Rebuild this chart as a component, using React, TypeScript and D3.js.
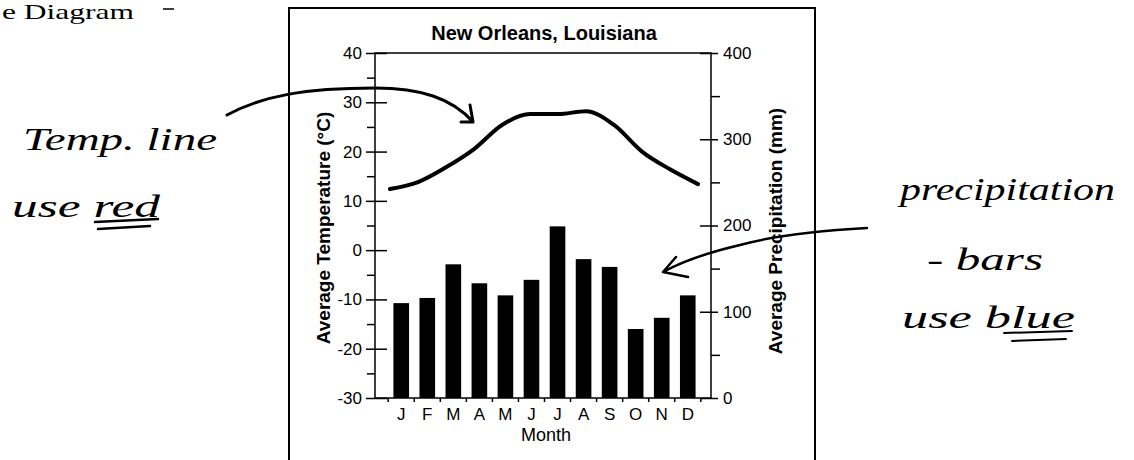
import React, { useEffect, useRef } from 'react';
import * as d3 from 'd3';

// monthly climate normals
const monthKeys = ['Jan', 'Feb', 'Mar', 'Apr', 'May', 'Jun', 'Jul', 'Aug', 'Sep', 'Oct', 'Nov', 'Dec'];
const monthLabels = ['J', 'F', 'M', 'A', 'M', 'J', 'J', 'A', 'S', 'O', 'N', 'D'];
const precipitation = [110, 116, 155, 133, 119, 137, 199, 161, 152, 80, 93, 119];
const temperature = [12.4, 13.8, 16.8, 20.5, 25.4, 27.6, 27.6, 28.2, 25.4, 20.0, 16.4, 13.4];

const tempTicks = [-30, -20, -10, 0, 10, 20, 30, 40];
const tempMinorTicks = [-25, -15, -5, 5, 15, 25, 35];
const precipTicks = [0, 100, 200, 300, 400];
const precipMinorTicks = [50, 150, 250, 350];

const W = 1134;
const H = 460;
const SANS = '"Liberation Sans", Arial, Helvetica, sans-serif';
const HAND = '"Liberation Serif", "DejaVu Serif", serif';

const App: React.FC = () => {
  const svgRef = useRef<SVGSVGElement>(null);

  useEffect(() => {
    if (!svgRef.current) return;
    const svg = d3.select(svgRef.current);
    svg.selectAll('*').remove();

    const left = 375;
    const right = 711;
    const top = 53;
    const bottom = 398;

    const x = d3.scaleBand<string>().domain(monthKeys).range([383, 706]).padding(0.4);
    const xLine = d3.scaleLinear().domain([0, 11]).range([390, 698]);
    const yT = d3.scaleLinear().domain([-30, 40]).range([bottom, top]);
    const yP = d3.scaleLinear().domain([0, 400]).range([bottom, top]);

    // page header fragment (cut by the scan)
    svg.append('text')
      .attr('x', 2).attr('y', 19)
      .attr('textLength', 132)
      .attr('lengthAdjust', 'spacingAndGlyphs')
      .style('font-family', '"Liberation Serif", "Times New Roman", serif')
      .style('font-size', '21px')
      .text('e Diagram');
    svg.append('line')
      .attr('x1', 163).attr('x2', 174).attr('y1', 9).attr('y2', 9)
      .attr('stroke', '#000').attr('stroke-width', 1.5);

    // outer frame of the figure
    svg.append('rect')
      .attr('x', 289).attr('y', 8).attr('width', 526).attr('height', 480)
      .attr('fill', 'none').attr('stroke', '#000').attr('stroke-width', 2);

    // title
    svg.append('text')
      .attr('x', 544).attr('y', 40)
      .attr('text-anchor', 'middle')
      .style('font-family', SANS).style('font-size', '20px').style('font-weight', 'bold')
      .text('New Orleans, Louisiana');

    // precipitation bars
    svg.append('g')
      .selectAll('rect')
      .data(precipitation)
      .join('rect')
      .attr('x', (d, i) => x(monthKeys[i])!)
      .attr('width', x.bandwidth())
      .attr('y', d => yP(d))
      .attr('height', d => yP(0) - yP(d))
      .attr('fill', '#000');

    // temperature line
    const line = d3.line<number>()
      .x((d, i) => xLine(i))
      .y(d => yT(d))
      .curve(d3.curveMonotoneX);
    svg.append('path')
      .datum(temperature)
      .attr('d', line)
      .attr('fill', 'none')
      .attr('stroke', '#000')
      .attr('stroke-width', 4)
      .attr('stroke-linecap', 'round');

    // plot frame
    svg.append('rect')
      .attr('x', left).attr('y', top)
      .attr('width', right - left).attr('height', bottom - top)
      .attr('fill', 'none').attr('stroke', '#000').attr('stroke-width', 1.5);

    const styleAxis = (g: any) => {
      g.select('.domain').remove();
      g.selectAll('line').attr('stroke', '#000').attr('stroke-width', 1.5);
      g.selectAll('text')
        .style('font-family', SANS)
        .style('font-size', '17px')
        .attr('fill', '#000');
    };

    // left temperature axis
    svg.append('g')
      .attr('transform', `translate(${left},0)`)
      .call(d3.axisLeft(yT).tickValues(tempTicks).tickSize(9).tickPadding(4).tickFormat(d => String(d)))
      .call(styleAxis);
    svg.append('g')
      .attr('transform', `translate(${left},0)`)
      .call(d3.axisRight(yT).tickValues(tempTicks).tickSize(12).tickFormat(() => ''))
      .call(styleAxis);
    svg.append('g')
      .attr('transform', `translate(${left},0)`)
      .call(d3.axisLeft(yT).tickValues(tempMinorTicks).tickSize(8).tickFormat(() => ''))
      .call(styleAxis);

    // right precipitation axis
    svg.append('g')
      .attr('transform', `translate(${right},0)`)
      .call(d3.axisRight(yP).tickValues(precipTicks).tickSize(7).tickPadding(5).tickFormat(d => String(d)))
      .call(styleAxis);
    svg.append('g')
      .attr('transform', `translate(${right},0)`)
      .call(d3.axisLeft(yP).tickValues(precipTicks).tickSize(11).tickFormat(() => ''))
      .call(styleAxis);
    svg.append('g')
      .attr('transform', `translate(${right},0)`)
      .call(d3.axisRight(yP).tickValues(precipMinorTicks).tickSize(9).tickFormat(() => ''))
      .call(styleAxis);

    // bottom month axis
    svg.append('g')
      .attr('transform', `translate(0,${bottom})`)
      .call(d3.axisBottom(x).tickSize(0).tickPadding(10).tickFormat((d, i) => monthLabels[i]))
      .call(styleAxis);

    const step = x.step();
    const boundaries = monthKeys.map(k => x(k)! + x.bandwidth() / 2 - step / 2)
      .concat([x(monthKeys[11])! + x.bandwidth() / 2 + step / 2]);
    svg.append('g')
      .selectAll('line')
      .data(boundaries)
      .join('line')
      .attr('x1', d => d).attr('x2', d => d)
      .attr('y1', bottom).attr('y2', bottom + 4)
      .attr('stroke', '#000').attr('stroke-width', 1.5);

    // axis titles
    svg.append('text')
      .attr('x', (left + right) / 2 + 3).attr('y', 441)
      .attr('text-anchor', 'middle')
      .style('font-family', SANS).style('font-size', '18px')
      .text('Month');

    svg.append('text')
      .attr('transform', 'translate(330,228) rotate(-90)')
      .attr('text-anchor', 'middle')
      .style('font-family', SANS).style('font-size', '19px').style('font-weight', 'bold')
      .text('Average Temperature (°C)');

    svg.append('text')
      .attr('transform', 'translate(782,231) rotate(-90)')
      .attr('text-anchor', 'middle')
      .style('font-family', SANS).style('font-size', '19px').style('font-weight', 'bold')
      .text('Average Precipitation (mm)');

    // handwritten notes
    const notes = [
      { text: 'Temp. line', x: 23, y: 150, len: 194 },
      { text: 'use red', x: 12, y: 217, len: 148 },
      { text: 'precipitation', x: 900, y: 200, len: 215 },
      { text: '- bars', x: 927, y: 270, len: 116 },
      { text: 'use blue', x: 902, y: 328, len: 173 }
    ];
    svg.append('g')
      .selectAll('text')
      .data(notes)
      .join('text')
      .attr('x', d => d.x).attr('y', d => d.y)
      .attr('textLength', d => d.len)
      .attr('lengthAdjust', 'spacingAndGlyphs')
      .style('font-family', HAND).style('font-style', 'italic').style('font-size', '32px')
      .text(d => d.text);

    const ink = svg.append('g')
      .attr('fill', 'none').attr('stroke', '#000')
      .attr('stroke-linecap', 'round').attr('stroke-linejoin', 'round');

    // underlines
    ink.append('path').attr('d', 'M95,222 L158,219 M98,229 L150,226').attr('stroke-width', 2.5);
    ink.append('path').attr('d', 'M1004,333 L1072,331 M1012,341 L1066,339').attr('stroke-width', 2);

    // arrows
    ink.append('path')
      .attr('d', 'M227,115 C262,96 305,88 375,88 C420,88 452,98 473,122 M470,105 L473,122 L461,122')
      .attr('stroke-width', 3);
    ink.append('path')
      .attr('d', 'M867,228 C830,230 780,234 740,245 C710,252 685,260 663,272 M676,257 L663,272 L688,277')
      .attr('stroke-width', 2.5);
  }, []);

  return (
    <svg
      ref={svgRef}
      width={W}
      height={H}
      style={{ position: 'absolute', left: 0, top: 0, background: '#ffffff' }}
    />
  );
};

export default App;
